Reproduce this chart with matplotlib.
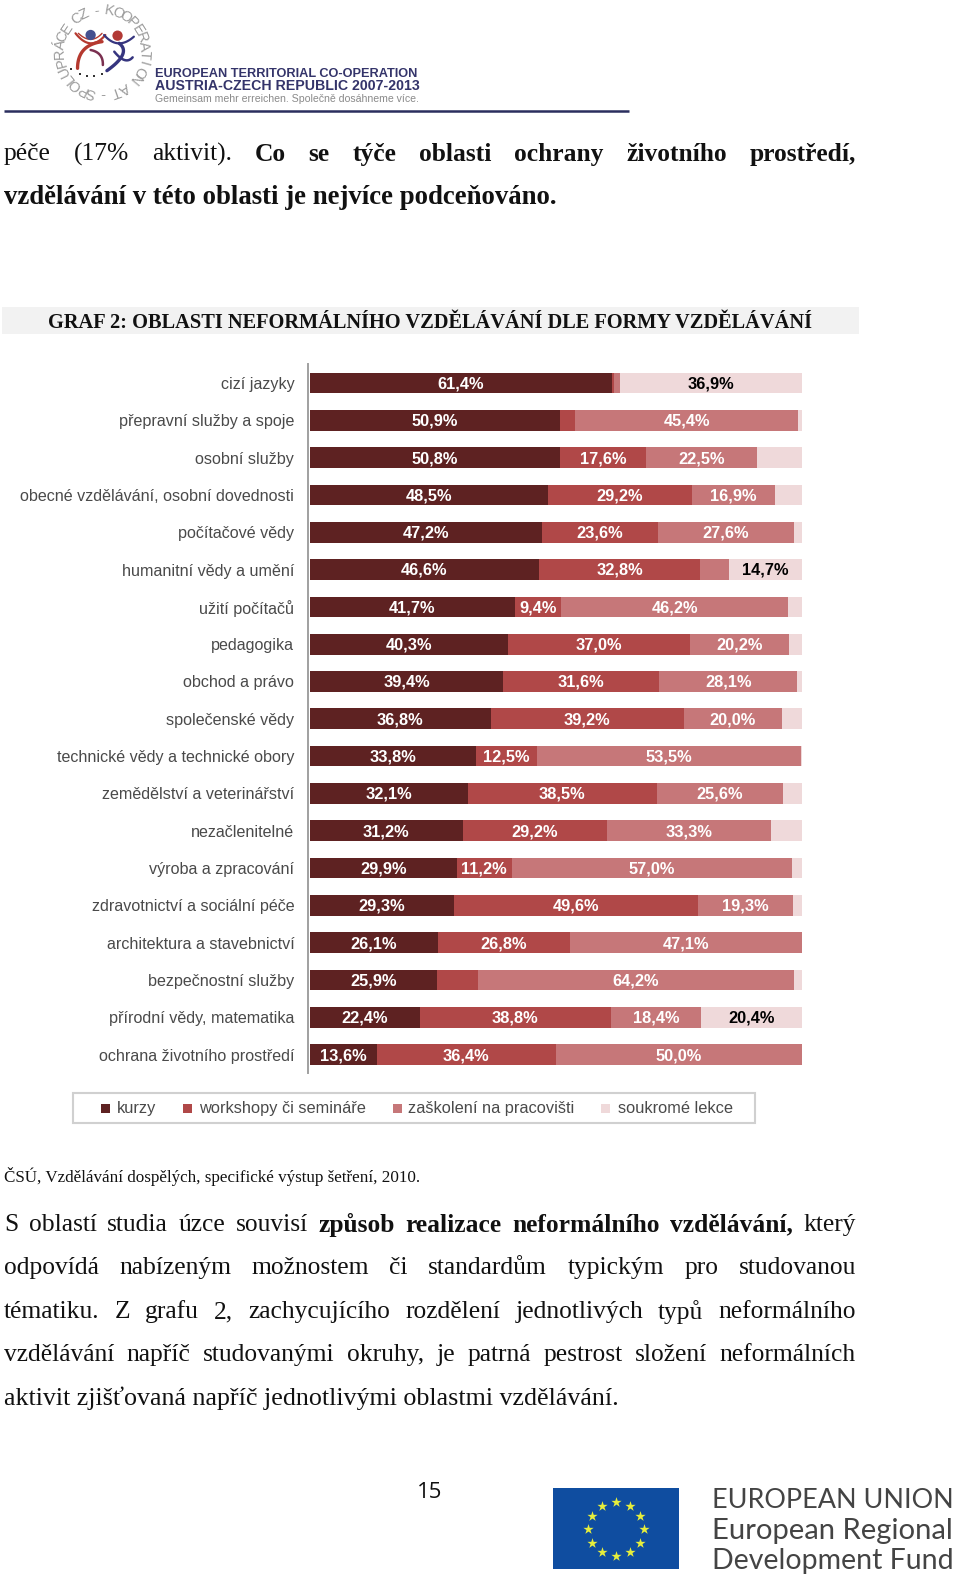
import numpy as np
import matplotlib
matplotlib.use("Agg")
import matplotlib.pyplot as plt
from matplotlib.patches import Rectangle

W, H = 960, 1576
categories = ["cizí jazyky", "přepravní služby a spoje", "osobní služby",
              "obecné vzdělávání, osobní dovednosti", "počítačové vědy",
              "humanitní vědy a umění", "užití počítačů", "pedagogika",
              "obchod a právo", "společenské vědy", "technické vědy a technické obory",
              "zemědělství a veterinářství", "nezačlenitelné", "výroba a zpracování",
              "zdravotnictví a sociální péče", "architektura a stavebnictví",
              "bezpečnostní služby", "přírodní vědy, matematika", "ochrana životního prostředí"]
kurzy = [61.4, 50.9, 50.8, 48.5, 47.2, 46.6, 41.7, 40.3, 39.4, 36.8, 33.8, 32.1, 31.2, 29.9, 29.3, 26.1, 25.9, 22.4, 13.6]
workshopy = [0.4, 3.0, 17.6, 29.2, 23.6, 32.8, 9.4, 37.0, 31.6, 39.2, 12.5, 38.5, 29.2, 11.2, 49.6, 26.8, 8.3, 38.8, 36.4]
zaskoleni = [1.3, 45.4, 22.5, 16.9, 27.6, 5.9, 46.2, 20.2, 28.1, 20.0, 53.5, 25.6, 33.3, 57.0, 19.3, 47.1, 64.2, 18.4, 50.0]
soukrome = [36.9, 0.7, 9.1, 5.4, 1.6, 14.7, 2.7, 2.5, 0.9, 4.0, 0.2, 3.8, 6.3, 1.9, 1.8, 0.0, 1.6, 20.4, 0.0]
series_names = ["kurzy", "workshopy či semináře", "zaškolení na pracovišti", "soukromé lekce"]
series_colors = ["#5E2222", "#B04848", "#C67779", "#EFD9DA"]
label_colors = ["white", "white", "white", "black"]
LABEL_MIN = 9.3

SERIF = "Liberation Serif"
SANS = "Liberation Sans"

fig = plt.figure(figsize=(W / 100, H / 100), dpi=100, facecolor="white")
page = fig.add_axes([0, 0, 1, 1], zorder=0)
page.set_xlim(0, W); page.set_ylim(H, 0); page.axis("off")
renderer = fig.canvas.get_renderer()


def width_of(s, **kw):
    t = page.text(0, 0, s, **kw)
    w = t.get_window_extent(renderer).width
    t.remove()
    return w


def fit(x0, x1, y, s, base=12.0, **kw):
    """Single text scaled so that it spans x0..x1."""
    w = width_of(s, fontsize=base, **kw)
    page.text(x0, y, s, fontsize=base * (x1 - x0) / w, va="center", ha="left", **kw)


def justified(x0, x1, y, segments, size, color="#111111"):
    """Words set one by one, with the spaces stretched to fill x0..x1."""
    words = [(w, wt) for text, wt in segments for w in text.split()]
    widths = [width_of(w, fontsize=size, family=SERIF, fontweight=wt) for w, wt in words]
    gap = (x1 - x0 - sum(widths)) / (len(words) - 1)
    x = x0
    for (w, wt), ww in zip(words, widths):
        page.text(x, y, w, fontsize=size, family=SERIF, fontweight=wt, va="center", ha="left", color=color)
        x += ww + gap


# ---------- header logo ----------
ring = "SPOLUPRÁCE CZ - KOOPERATION AT - "
cx, cy, rx, ry = 102, 52, 42, 42
weights = np.array([0.6 if c == " " else (0.75 if c == "-" else 1.0) for c in ring])
angles = 190 + 360 * (np.cumsum(weights) - weights / 2) / weights.sum()
for ch, deg in zip(ring, angles):
    a = np.deg2rad(deg)
    px, py = cx + rx * np.sin(a), cy - ry * np.cos(a)
    page.text(px, py, ch, fontsize=10.5, family=SANS, color="#9C9C9C", ha="center", va="center",
              rotation=-deg, rotation_mode="anchor")


def stroke(xs, ys, color, lw):
    t = np.linspace(0, 1, 30)
    xs, ys = np.array(xs) / 2.45, np.array(ys) / 3
    cf_x, cf_y = np.polyfit(np.linspace(0, 1, len(xs)), xs, 2), np.polyfit(np.linspace(0, 1, len(ys)), ys, 2)
    page.plot(np.polyval(cf_x, t), np.polyval(cf_y, t), color=color, lw=lw, solid_capstyle="round")


RED, BLUE = "#B5392F", "#36357F"
stroke([185, 222, 258], [100, 130, 105], RED, 1.6)
stroke([192, 222, 250], [100, 118, 100], RED, 1.0)
stroke([250, 205, 190], [125, 150, 205], RED, 2.4)
stroke([222, 245, 252], [150, 165, 195], "#7A3050", 1.8)
stroke([255, 290, 328], [105, 130, 110], BLUE, 1.6)
stroke([292, 300, 262], [130, 165, 212], BLUE, 2.4)
stroke([280, 305, 325], [155, 180, 172], BLUE, 1.8)
page.scatter([222 / 2.45, 288 / 2.45], [105 / 3, 107 / 3], s=55, color=["#45508F", "#B23A36"], zorder=3, linewidths=0)
page.scatter(np.array([175, 195, 212, 230, 250, 262]) / 2.45, np.array([208, 222, 228, 228, 222, 212]) / 3,
             s=2.5, color="#333333", marker="s", linewidths=0)

fit(155, 417, 73.5, "EUROPEAN TERRITORIAL CO-OPERATION", family=SANS, fontweight="bold", color="#34346A")
fit(155, 417, 86, "AUSTRIA-CZECH REPUBLIC 2007-2013", family=SANS, fontweight="bold", color="#34346A")
fit(155, 417, 98.5, "Gemeinsam mehr erreichen. Společně dosáhneme více.", family=SANS, color="#8A8A8A")
page.plot([4, 629], [110.7, 110.7], color="#2B2E5E", lw=1.8, solid_capstyle="butt")

# ---------- body text above the chart ----------
BODY = 18.4
justified(4, 856, 154, [("péče (17% aktivit).", "normal"),
                        ("Co se týče oblasti ochrany životního prostředí,", "bold")], BODY)
fit(4, 554, 197, "vzdělávání v této oblasti je nejvíce podceňováno.", family=SERIF, fontweight="bold", color="#111111")

page.add_patch(Rectangle((2, 307), 857, 27, facecolor="#F2F2F2", edgecolor="none"))
fit(48, 811, 323, "GRAF 2: OBLASTI NEFORMÁLNÍHO VZDĚLÁVÁNÍ DLE FORMY VZDĚLÁVÁNÍ",
    family=SERIF, fontweight="bold", color="#111111")

# ---------- chart ----------
ROW0, STEP, AX_TOP, AX_BOT = 383.0, 37.31, 364.0, 1073.0
X0, X100 = 309.6, 801.7
ax = fig.add_axes([X0 / W, 1 - AX_BOT / H, (X100 - X0) / W, (AX_BOT - AX_TOP) / H], zorder=1)
ax.patch.set_alpha(0)
for s in ("top", "right", "bottom"):
    ax.spines[s].set_visible(False)
ax.spines["left"].set_color("#A0A0A0")
ax.spines["left"].set_linewidth(1.4)
ax.spines["left"].set_position(("outward", 1))

y = np.arange(len(categories))
left = np.zeros(len(categories))
for vals, name, col, lcol in zip([kurzy, workshopy, zaskoleni, soukrome], series_names, series_colors, label_colors):
    vals = np.array(vals)
    ax.barh(y, vals, left=left, height=0.555, color=col, label=name, linewidth=0)
    for yi, v, l in zip(y, vals, left):
        if v >= LABEL_MIN:
            ax.text(l + v / 2, yi + 0.025, f"{v:.1f}%".replace(".", ","), ha="center", va="center",
                    color=lcol, fontsize=11.8, family=SANS, fontweight="bold")
    left += vals
ax.set_xlim(0, 100)
ax.set_ylim((AX_BOT - ROW0) / STEP, (AX_TOP - ROW0) / STEP)
ax.set_xticks([])
ax.set_yticks(y, categories)
ax.tick_params(axis="y", length=0, pad=10, labelsize=11.6, labelcolor="#4A4A4A", labelfontfamily=SANS)

# ---------- legend ----------
page.add_patch(Rectangle((72.5, 1093), 682, 30, facecolor="white", edgecolor="#D0D0D0", lw=1.5))
marker_x = [105, 187, 397, 605.5]
text_x = [116.5, 199, 408, 618]
for name, col, mx, tx in zip(series_names, series_colors, marker_x, text_x):
    page.add_patch(Rectangle((mx - 4.5, 1104), 9, 9, facecolor=col, edgecolor="none"))
    page.text(tx, 1108.5, name, family=SANS, fontsize=11.8, color="#4A4A4A", va="center", ha="left")

# ---------- text below the chart ----------
fit(4, 419, 1176, "ČSÚ, Vzdělávání dospělých, specifické výstup šetření, 2010.", family=SERIF, color="#111111")
justified(4, 856, 1225, [("S oblastí studia úzce souvisí", "normal"),
                         ("způsob realizace neformálního vzdělávání,", "bold"),
                         ("který", "normal")], BODY)
justified(4, 856, 1268, [("odpovídá nabízeným možnostem či standardům typickým pro studovanou", "normal")], BODY)
justified(4, 856, 1312, [("tématiku. Z grafu 2, zachycujícího rozdělení jednotlivých typů neformálního", "normal")], BODY)
justified(4, 856, 1355, [("vzdělávání napříč studovanými okruhy, je patrná pestrost složení neformálních", "normal")], BODY)
fit(4, 618, 1398, "aktivit zjišťovaná napříč jednotlivými oblastmi vzdělávání.", family=SERIF, color="#111111")

# ---------- footer ----------
page.text(430, 1492, "15", family="Open Sans", fontsize=16, ha="center", va="center", color="#111111")
page.add_patch(Rectangle((553, 1488), 126, 81, facecolor="#0F4DA0", edgecolor="none"))
ang = np.deg2rad(np.arange(12) * 30)
page.scatter(616 + 28 * np.sin(ang), 1529 - 27 * np.cos(ang), marker="*", s=60, color="#E6EE3C", linewidths=0, zorder=3)
for yy, s, x1 in [(1501, "EUROPEAN UNION", 953.5), (1531, "European Regional", 953.5), (1561, "Development Fund", 953.5)]:
    fit(712.5, x1, yy, s, family="Lato", color="#444444")

fig.savefig("out.png", dpi=100, facecolor="white")
